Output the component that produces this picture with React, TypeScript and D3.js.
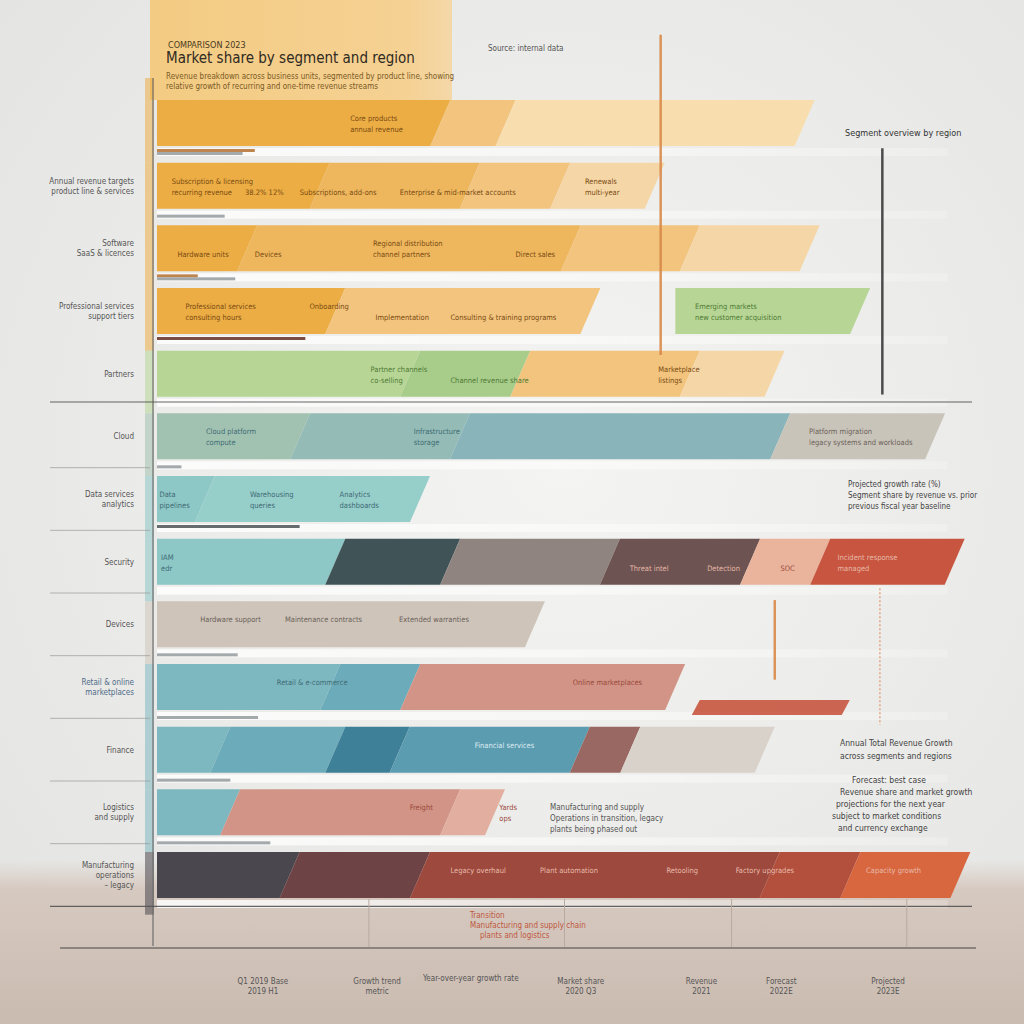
import React from "react";
import * as d3 from "d3";

// ---------- DATA ----------
const rowLabels: string[][] = [
  [],
  ["Annual revenue targets", "product line & services"],
  ["Software", "SaaS & licences"],
  ["Professional services", "support tiers"],
  ["Partners"],
  ["Cloud"],
  ["Data services", "analytics"],
  ["Security"],
  ["Devices"],
  ["Retail & online", "marketplaces"],
  ["Finance"],
  ["Logistics", "and supply"],
  ["Manufacturing", "operations", "– legacy"],
];

// [row, start, end, tone]
const segments: [number, number, number, string][] = [
  [0, 0, 36, "or1"], [0, 36, 44, "or3"], [0, 44, 80.7, "or5"],
  [1, 0, 21.2, "or1"], [1, 21.2, 39.6, "or2"], [1, 39.6, 50.7, "or3"], [1, 50.7, 62.3, "or4"],
  [2, 0, 12.3, "or1"], [2, 12.3, 52, "or2"], [2, 52, 66.6, "or3"], [2, 66.6, 81.3, "or4"],
  [3, 0, 23.1, "or1"], [3, 23.1, 54.4, "or3"], [3, 63.6, 87.5, "gr1"],
  [4, 0, 32.3, "gr1"], [4, 32.3, 45.8, "gr2"], [4, 45.8, 66.6, "or3"], [4, 66.6, 77, "or4"],
  [5, 0, 18.8, "sg1"], [5, 18.8, 38.4, "sg2"], [5, 38.4, 77.7, "sg3"], [5, 77.7, 96.7, "gy1"],
  [6, 0, 7.1, "tl1"], [6, 7.1, 33.5, "tl2"],
  [7, 0, 23.1, "tl1"], [7, 23.1, 37.2, "sl1"], [7, 37.2, 56.8, "br1"], [7, 56.8, 74, "br2"], [7, 74, 82.6, "sa1"], [7, 82.6, 99.1, "rd1"],
  [8, 0, 47.6, "bg1"],
  [9, 0, 22.5, "tl3"], [9, 22.5, 32.3, "tl4"], [9, 32.3, 64.8, "sa2"],
  [10, 0, 9, "tl3"], [10, 9, 23.1, "tl4"], [10, 23.1, 31, "bl1"], [10, 31, 53.1, "bl2"], [10, 53.1, 59.3, "br3"], [10, 59.3, 75.8, "gy2"],
  [11, 0, 10.2, "tl3"], [11, 10.2, 37.2, "sa2"], [11, 37.2, 42.7, "sa3"],
  [12, 0, 17.5, "dk1"], [12, 17.5, 33.5, "dk2"], [12, 33.5, 76.4, "rd2"], [12, 76.4, 86.3, "rd3"], [12, 86.3, 99.8, "rd4"],
];

// thin progress lines below bars: [row, end, tone]
const progress: [number, number, string][] = [
  [0, 12, "pb"], [0, 10.5, "pg"], [1, 8.3, "pg"], [2, 5, "pb"], [2, 9.6, "pg"],
  [3, 18.2, "pd"], [5, 3, "pg"], [6, 17.5, "pk"], [8, 9.9, "pg"], [9, 12.4, "pg"],
  [10, 9, "pg"], [11, 13.9, "pg"],
];

// small accent bars: [row, start, end, tone]
const accents: [number, number, number, string][] = [
  [9, 66.6, 85, "rd1"],
];

// vertical markers: [xValue, rowFrom, rowTo, tone, dashed]
const markers: [number, number, number, string, boolean][] = [
  [61.8, -1.04, 4.07, "mk1", false],
  [89, 0.77, 4.7, "mk2", false],
  [75.8, 7.98, 9.25, "mk1", false],
  [88.7, 7.79, 9.97, "mk3", true],
];

// in-bar labels: [row, xValue, lines]
const barLabels: [number, number, string[]][] = [
  [0, 23.7, ["Core products", "annual revenue"]],
  [1, 1.8, ["Subscription & licensing", "recurring revenue"]],
  [1, 10.8, ["", "38.2%   12%"]],
  [1, 17.5, ["", "Subscriptions, add-ons"]],
  [1, 29.8, ["", "Enterprise & mid-market accounts"]],
  [1, 52.5, ["Renewals", "multi-year"]],
  [2, 2.5, ["", "Hardware units"]],
  [2, 12, ["", "Devices"]],
  [2, 26.5, ["Regional distribution", "channel partners"]],
  [2, 44, ["", "Direct sales"]],
  [3, 3.5, ["Professional services", "consulting hours"]],
  [3, 18.7, ["Onboarding", ""]],
  [3, 26.8, ["", "Implementation"]],
  [3, 36, ["", "Consulting & training programs"]],
  [3, 66, ["Emerging markets", "new customer acquisition"]],
  [4, 26.2, ["Partner channels", "co-selling"]],
  [4, 36, ["", "Channel revenue share"]],
  [4, 61.5, ["Marketplace", "listings"]],
  [5, 6, ["Cloud platform", "compute"]],
  [5, 31.5, ["Infrastructure", "storage"]],
  [5, 80, ["Platform migration", "legacy systems and workloads"]],
  [6, 0.3, ["Data", "pipelines"]],
  [6, 11.4, ["Warehousing", "queries"]],
  [6, 22.4, ["Analytics", "dashboards"]],
  [7, 0.5, ["IAM", "edr"]],
  [7, 58, ["", "Threat intel"]],
  [7, 67.5, ["", "Detection"]],
  [7, 76.5, ["", "SOC"]],
  [7, 83.5, ["Incident response", "managed"]],
  [8, 5.3, ["Hardware support", ""]],
  [8, 15.7, ["Maintenance contracts", ""]],
  [8, 29.7, ["Extended warranties", ""]],
  [9, 14.7, ["Retail & e-commerce", ""]],
  [9, 51, ["Online marketplaces", ""]],
  [10, 39, ["Financial services", ""]],
  [11, 31, ["Freight", ""]],
  [11, 42, ["Yards", "ops"]],
  [12, 36, ["Legacy overhaul", ""]],
  [12, 47, ["Plant automation", ""]],
  [12, 62.5, ["Retooling", ""]],
  [12, 71, ["Factory upgrades", ""]],
  [12, 87, ["Capacity growth", ""]],
];

const bottomTicks: [number, string[]][] = [
  [13, ["Q1 2019 Base", "2019 H1"]],
  [27, ["Growth trend", "metric"]],
  [38.5, ["Year-over-year growth rate"]],
  [52, ["Market share", "2020 Q3"]],
  [66.8, ["Revenue", "2021"]],
  [76.6, ["Forecast", "2022E"]],
  [89.7, ["Projected", "2023E"]],
];

const titleSmall = "COMPARISON 2023";
const titleMain = "Market share by segment and region";
const subtitle = [
  "Revenue breakdown across business units, segmented by product line, showing",
  "relative growth of recurring and one-time revenue streams",
];
const sourceNote = "Source: internal data";
const legendTitle = "Segment overview by region";
const noteA = ["Projected growth rate (%)", "Segment share by revenue vs. prior", "previous fiscal year baseline"];
const noteB = ["Annual Total Revenue Growth", "across segments and regions"];
const noteC = ["Forecast: best case", "Revenue share and market growth", "projections for the next year", "subject to market conditions", "and currency exchange"];
const noteD = ["Manufacturing and supply", "Operations in transition, legacy", "plants being phased out"];
const bottomNote = ["Transition", "Manufacturing and supply chain", "plants and logistics"];

const tones: Record<string, string> = {
  or1: "#ECAD44", or2: "#EEB75E", or3: "#F2C47E", or4: "#F5D6A6", or5: "#F8DEAF",
  gr1: "#B7D696", gr2: "#A8CD8B",
  sg1: "#A2C2B1", sg2: "#94BBB6", sg3: "#88B4BA", gy1: "#C9C4BA", gy2: "#D8D2CA",
  tl1: "#8DC7C6", tl2: "#96CECA", tl3: "#7DB8C1", tl4: "#6CABB9",
  sl1: "#405458", br1: "#8F847F", br2: "#6D5351", br3: "#9A6862",
  sa1: "#E9B39C", sa2: "#D19486", sa3: "#E2AE9F",
  rd1: "#C8553F", rd2: "#9D493E", rd3: "#B2503D", rd4: "#D8673F",
  dk1: "#4B474E", dk2: "#6E4345",
  bg1: "#CEC4BA", bl1: "#3F8099", bl2: "#5B9CB1",
  pb: "#B8783C", pg: "#9AA0A3", pd: "#6A3A30", pk: "#555B5E",
  mk1: "#D98A4A", mk2: "#3A3A3C", mk3: "#E2A27A",
};

const labelColor = (tone: string) => {
  if (tone.startsWith("or")) return "#7A4B12";
  if (tone.startsWith("gr")) return "#4F7A34";
  if (tone.startsWith("rd") || tone.startsWith("dk") || tone === "br2" || tone === "sl1") return "#E7B9A9";
  if (tone.startsWith("sa")) return "#9B4A3C";
  if (tone === "bl1" || tone === "bl2") return "#DCEBF0";
  if (tone.startsWith("gy") || tone === "bg1" || tone === "br1") return "#6B6259";
  return "#3E6B74";
};

// ---------- CHART ----------
const W = 1024, H = 1024;
const FONT = "'Liberation Sans Narrow','DejaVu Sans Condensed','Liberation Sans',sans-serif";

export default function App() {
  const x = d3.scaleLinear().domain([0, 100]).range([157, 972]);
  const y = d3.scaleBand<number>().domain(d3.range(13)).range([100, 898]).paddingInner(0.266).paddingOuter(0);
  const bw = y.bandwidth();
  const step = y.step();
  const rowY = d3.scaleLinear().domain([0, 13]).range([100, 100 + 13 * step]);
  const slant = 20;

  const segPath = (r: number, s: number, e: number, adjacent: boolean) => {
    const t = y(r)!;
    const b = t + bw;
    const lt = x(s);
    const lb = s === 0 || !adjacent ? x(s) : x(s) - slant;
    const rt = x(e);
    const rb = x(e) - slant;
    return `M${lt},${t}L${rt},${t}L${rb},${b}L${lb},${b}Z`;
  };

  const segToneAt = (r: number, v: number) => {
    const s = segments.find((d) => d[0] === r && d[1] <= v && d[2] > v);
    return s ? s[3] : "gy1";
  };

  const firstTone = (r: number) => {
    const s = segments.find((d) => d[0] === r);
    return s ? s[3] : "or1";
  };

  return (
    <svg width={W} height={H} style={{ position: "absolute", left: 0, top: 0 }} fontFamily={FONT}>
      <defs>
        <radialGradient id="bgGrad" cx="0.55" cy="0.45" r="0.75">
          <stop offset="0" stopColor="#F4F4F2" />
          <stop offset="1" stopColor="#E3E3E1" />
        </radialGradient>
        <linearGradient id="bottomGrad" x1="0" y1="0" x2="0" y2="1">
          <stop offset="0" stopColor="#D9CCC3" stopOpacity="0" />
          <stop offset="0.18" stopColor="#D6C9C0" stopOpacity="1" />
          <stop offset="1" stopColor="#CABBB0" />
        </linearGradient>
        <linearGradient id="titleGrad" x1="0" y1="0" x2="1" y2="0">
          <stop offset="0" stopColor="#F3CB82" />
          <stop offset="0.85" stopColor="#F5D193" />
          <stop offset="1" stopColor="#F4D8A8" />
        </linearGradient>
        <linearGradient id="fadeRight" x1="0" y1="0" x2="1" y2="0">
          <stop offset="0" stopColor="#FFFFFF" stopOpacity="0.85" />
          <stop offset="1" stopColor="#FFFFFF" stopOpacity="0.2" />
        </linearGradient>
      </defs>

      {/* background */}
      <rect x={0} y={0} width={W} height={H} fill="url(#bgGrad)" />
      <rect x={0} y={860} width={W} height={H - 860} fill="url(#bottomGrad)" />

      {/* title box */}
      <rect x={150} y={0} width={302} height={100} fill="url(#titleGrad)" />
      <text x={168} y={48} fontSize={9} fill="#4A3A20">{titleSmall}</text>
      <text x={166} y={63} fontSize={15} fill="#2F2A22" fontWeight={500}>{titleMain}</text>
      {subtitle.map((t, i) => (
        <text key={i} x={166} y={79 + i * 10} fontSize={8} fill="#7A5A25">{t}</text>
      ))}
      <text x={488} y={51} fontSize={8} fill="#555">{sourceNote}</text>
      <text x={845} y={136} fontSize={9} fill="#333">{legendTitle}</text>

      {/* white tracks between rows */}
      {d3.range(13).map((r) => (
        <rect key={"trk" + r} x={x(0)} y={y(r)! + bw + 2} width={x(97) - x(0)} height={8} fill="url(#fadeRight)" />
      ))}

      {/* left tint strip */}
      {d3.range(13).map((r) => (
        <rect key={"tint" + r} x={145} y={rowY(r) - (r === 0 ? 22 : 0)} width={9} height={step + (r === 0 ? 22 : 0)}
          fill={tones[firstTone(r)]} opacity={0.55} />
      ))}
      <line x1={153} x2={153} y1={78} y2={946} stroke="#6E6E6E" strokeWidth={1.2} />

      {/* row separators */}
      {d3.range(4, 13).map((r) => {
        const yy = y(r)! + bw + (step - bw) / 2 + (r === 4 ? -3 : 0);
        const full = r === 4 || r === 12;
        return (
          <line key={"sep" + r} x1={50} x2={full ? 972 : 150} y1={yy} y2={yy}
            stroke={full ? "#555" : "#9A9A9A"} strokeWidth={full ? 1.2 : 1} opacity={full ? 0.9 : 0.7} />
        );
      })}
      <line x1={60} x2={976} y1={948} y2={948} stroke="#444" strokeWidth={1.2} />
      {[26, 50, 70.5, 92].map((v, i) => (
        <line key={"vt" + i} x1={x(v)} x2={x(v)} y1={899} y2={947} stroke="#B9AAA0" strokeWidth={1} />
      ))}

      {/* segments */}
      {segments.map((d, i) => {
        const prev = segments[i - 1];
        const adjacent = !!prev && prev[0] === d[0] && Math.abs(prev[2] - d[1]) < 0.01;
        return <path key={"seg" + i} d={segPath(d[0], d[1], d[2], adjacent)} fill={tones[d[3]]} />;
      })}

      {/* accent bars */}
      {accents.map((d, i) => {
        const t = y(d[0])! + bw - 10;
        return (
          <path key={"acc" + i}
            d={`M${x(d[1])},${t}L${x(d[2])},${t}L${x(d[2]) - 8},${t + 15}L${x(d[1]) - 8},${t + 15}Z`}
            fill={tones[d[3]]} opacity={0.9} />
        );
      })}

      {/* progress lines */}
      {progress.map((d, i) => (
        <rect key={"pr" + i} x={x(0)} y={y(d[0])! + bw + 3 + (d[2] === "pg" ? 3 : 0)} width={x(d[1]) - x(0)} height={3}
          fill={tones[d[2]]} opacity={0.9} />
      ))}

      {/* vertical markers */}
      {markers.map((d, i) => (
        <line key={"mk" + i} x1={x(d[0])} x2={x(d[0])} y1={rowY(d[1])} y2={rowY(d[2])}
          stroke={tones[d[3]]} strokeWidth={d[4] ? 1.5 : 2.5} strokeDasharray={d[4] ? "2,2" : undefined} opacity={0.9} />
      ))}

      {/* in-bar labels */}
      {barLabels.map((d, i) => {
        const tone = segToneAt(d[0], d[1] + 0.5);
        const t = y(d[0])!;
        return (
          <g key={"bl" + i}>
            {d[2].map((line, j) => line ? (
              <text key={j} x={x(d[1])} y={t + bw / 2 - 2 + j * 11} fontSize={7.5} fill={labelColor(tone)}>{line}</text>
            ) : null)}
          </g>
        );
      })}

      {/* row labels */}
      {rowLabels.map((lines, r) => {
        const cy = y(r)! + bw / 2;
        const n = lines.length;
        return (
          <g key={"rl" + r}>
            {lines.map((line, j) => (
              <text key={j} x={134} y={cy + 3 + (j - (n - 1) / 2) * 10} fontSize={8} textAnchor="end"
                fill={r === 9 ? "#4D6B88" : "#555"}>{line}</text>
            ))}
          </g>
        );
      })}

      {/* right-side notes */}
      {noteA.map((t, i) => (
        <text key={"na" + i} x={848} y={487 + i * 11} fontSize={8} fill="#444">{t}</text>
      ))}
      {noteB.map((t, i) => (
        <text key={"nb" + i} x={840} y={746 + i * 13} fontSize={8.5} fill="#444">{t}</text>
      ))}
      {noteC.map((t, i) => (
        <text key={"nc" + i} x={[852, 840, 836, 832, 838][i]} y={783 + i * 12} fontSize={8.5} fill="#444">{t}</text>
      ))}
      {noteD.map((t, i) => (
        <text key={"nd" + i} x={550} y={810 + i * 11} fontSize={8} fill="#555">{t}</text>
      ))}
      {bottomNote.map((t, i) => (
        <text key={"bn" + i} x={[470, 470, 480][i]} y={918 + i * 10} fontSize={8} fill="#C0583F">{t}</text>
      ))}

      {/* bottom tick labels */}
      {bottomTicks.map((d, i) => (
        <g key={"bt" + i}>
          {d[1].map((line, j) => (
            <text key={j} x={x(d[0])} y={984 + j * 10 - (d[1].length === 1 ? 3 : 0)} fontSize={8} textAnchor="middle" fill="#555">{line}</text>
          ))}
        </g>
      ))}
    </svg>
  );
}
